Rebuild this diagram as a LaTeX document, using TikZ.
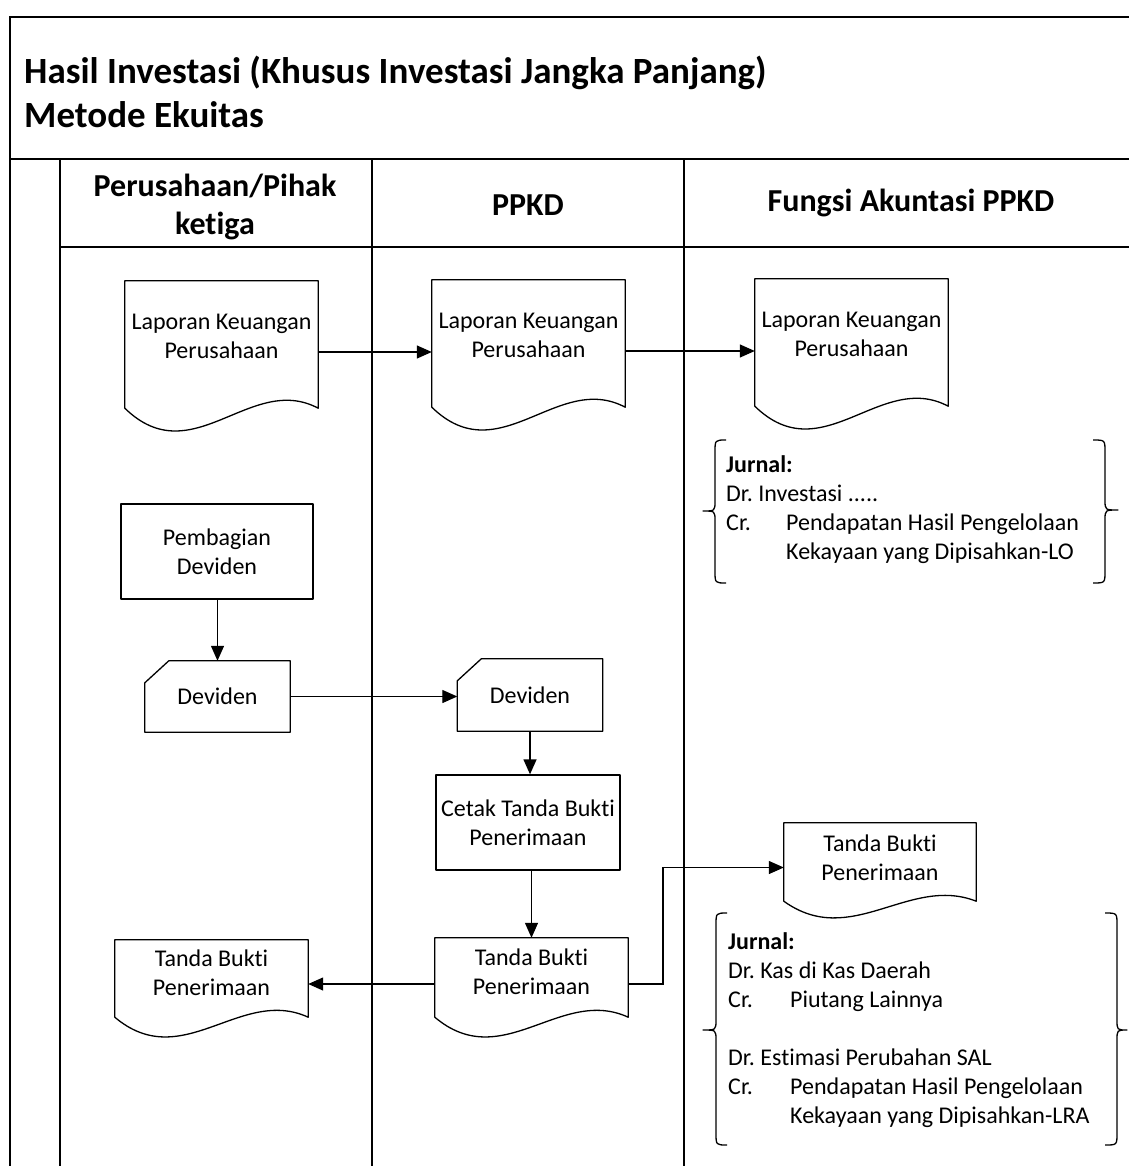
\documentclass[tikz,border=0pt]{standalone}
\usepackage{fontspec}
\setmainfont{Carlito}[Ligatures=NoCommon]
\usetikzlibrary{arrows.meta,calc}
\newcommand\docoutline[2]{%
  \draw[shapeline] (#1.north west) -- (#1.north east) -- ($(#1.south east)+(0,-#2)$)
    .. controls ($(#1.south east)!0.35!(#1.south west)+(0,{-3.4*#2})$) and ($(#1.south west)!0.35!(#1.south east)+(0,{3.4*#2})$)
    .. ($(#1.south west)+(0,-#2)$) -- cycle;}
\newcommand\cardoutline[1]{%
  \draw[shapeline] ($(#1.north west)+(24,0)$) -- (#1.north east) -- (#1.south east) -- (#1.south west) -- ($(#1.north west)+(0,22)$) -- cycle;}
\newcommand\curlpath[6]{% T B M xo xv xe
  \draw[shapeline] (#6,#1) .. controls (#5,#1) .. (#5,#1+12) -- (#5,#3-10)
    .. controls (#5,#3) .. (#4,#3) .. controls (#5,#3) .. (#5,#3+10)
    -- (#5,#2-12) .. controls (#5,#2) .. (#6,#2);}
\begin{document}
\begin{tikzpicture}[x=1pt,y=-1pt,
  shapeline/.style={line width=1.3pt,line join=round},
  laneline/.style={line width=1.3pt},
  txt/.style={font=\fontsize{24}{29}\selectfont,align=center},
  hdr/.style={font=\bfseries\fontsize{32}{38}\selectfont,align=center},
  ttl/.style={font=\bfseries\fontsize{37}{42}\selectfont,align=left,anchor=west,inner sep=0pt},
  box/.style={draw=none,inner sep=0pt,txt},
  proc/.style={draw,shapeline,inner sep=0pt,txt},
  arr/.style={line width=1.3pt,-{Triangle[length=15pt,width=13pt]}},
  jrn/.style={font=\fontsize{24}{29}\selectfont,align=left,anchor=west,inner sep=0pt}
]
\useasboundingbox (0,0) rectangle (1129,1166);
% frame and lanes
\draw[laneline] (10,1166) -- (10,17) -- (1129,17);
\draw[laneline] (10,159) -- (1129,159);
\draw[laneline] (60,247) -- (1129,247);
\draw[laneline] (60,159) -- (60,1166);
\draw[laneline] (372,159) -- (372,1166);
\draw[laneline] (684,159) -- (684,1166);
% titles
\node[ttl] (t1) at (24,73) {Hasil Investasi (Khusus Investasi Jangka Panjang)};
\node[ttl] (t2) at (24,115) {Metode Ekuitas};
\node[hdr] (h1) at (215,207) {Perusahaan/Pihak\\ketiga};
\node[hdr] (h2) at (528,205) {PPKD};
\node[hdr] (h3) at (911,203) {Fungsi Akuntasi PPKD};
% documents row 1
\node[box,minimum width=193,minimum height=142,label={[txt,yshift=16pt]center:Laporan Keuangan\\Perusahaan}] (d1) at (221.5,352) {};
\node[box,minimum width=193,minimum height=142,label={[txt,yshift=16pt]center:Laporan Keuangan\\Perusahaan}] (d2) at (528.5,351) {};
\node[box,minimum width=193,minimum height=142,label={[txt,yshift=16pt]center:Laporan Keuangan\\Perusahaan}] (d3) at (851.5,350) {};
\docoutline{d1}{15}
\docoutline{d2}{15}
\docoutline{d3}{15}
\draw[arr] (d1.east) -- (d1.east -| d2.west);
\draw[arr] (d2.east) -- (d2.east -| d3.west);
% journal 1
\node[jrn] (j1) at (726,510) {\textbf{Jurnal:}\\Dr.\ Investasi .....\\\makebox[60pt][l]{Cr.}Pendapatan Hasil Pengelolaan\\\makebox[60pt][l]{}Kekayaan yang Dipisahkan-LO};
\curlpath{440}{583}{511}{703}{715}{726}
\curlpath{440}{583}{510}{1118}{1105}{1093}
% deviden flow
\node[proc,minimum width=192,minimum height=95] (p1) at (217,551.5) {Pembagian\\Deviden};
\node[box,minimum width=145,minimum height=71] (c1) at (217.5,696.5) {Deviden};
\node[box,minimum width=145,minimum height=72] (c2) at (530,695) {Deviden};
\cardoutline{c1}
\cardoutline{c2}
\draw[arr] (p1.south -| c1.north) -- (c1.north);
\draw[arr] (c1.east) -- (c1.east -| c2.west);
\node[proc,minimum width=184,minimum height=95] (p2) at (528,822.5) {Cetak Tanda Bukti\\Penerimaan};
\draw[arr] (c2.south) -- (c2.south |- p2.north);
\node[box,minimum width=193,minimum height=92,label={[txt,yshift=12pt]center:Tanda Bukti\\Penerimaan}] (d4) at (531.5,984) {};
\node[box,minimum width=193,minimum height=90,label={[txt,yshift=12pt]center:Tanda Bukti\\Penerimaan}] (d5) at (211.5,985) {};
\node[box,minimum width=192,minimum height=89,label={[txt,yshift=10pt]center:Tanda Bukti\\Penerimaan}] (d6) at (880,867.5) {};
\docoutline{d4}{13}
\docoutline{d5}{13}
\docoutline{d6}{11}
\draw[arr] (d4.north |- p2.south) -- (d4.north);
\draw[arr] (d4.west) -- (d4.west -| d5.east);
\coordinate (e1) at (663,0);
\draw[arr] (d4.east) -- (d4.east -| e1) |- (d6.west);
% journal 2
\node[jrn] (j2) at (728,1030) {\textbf{Jurnal:}\\Dr.\ Kas di Kas Daerah\\\makebox[62pt][l]{Cr.}Piutang Lainnya\\\mbox{}\\Dr.\ Estimasi Perubahan SAL\\\makebox[62pt][l]{Cr.}Pendapatan Hasil Pengelolaan\\\makebox[62pt][l]{}Kekayaan yang Dipisahkan-LRA};
\curlpath{913}{1145}{1030}{703}{716}{727}
\curlpath{913}{1145}{1030}{1127}{1117}{1105}
\end{tikzpicture}
\end{document}
